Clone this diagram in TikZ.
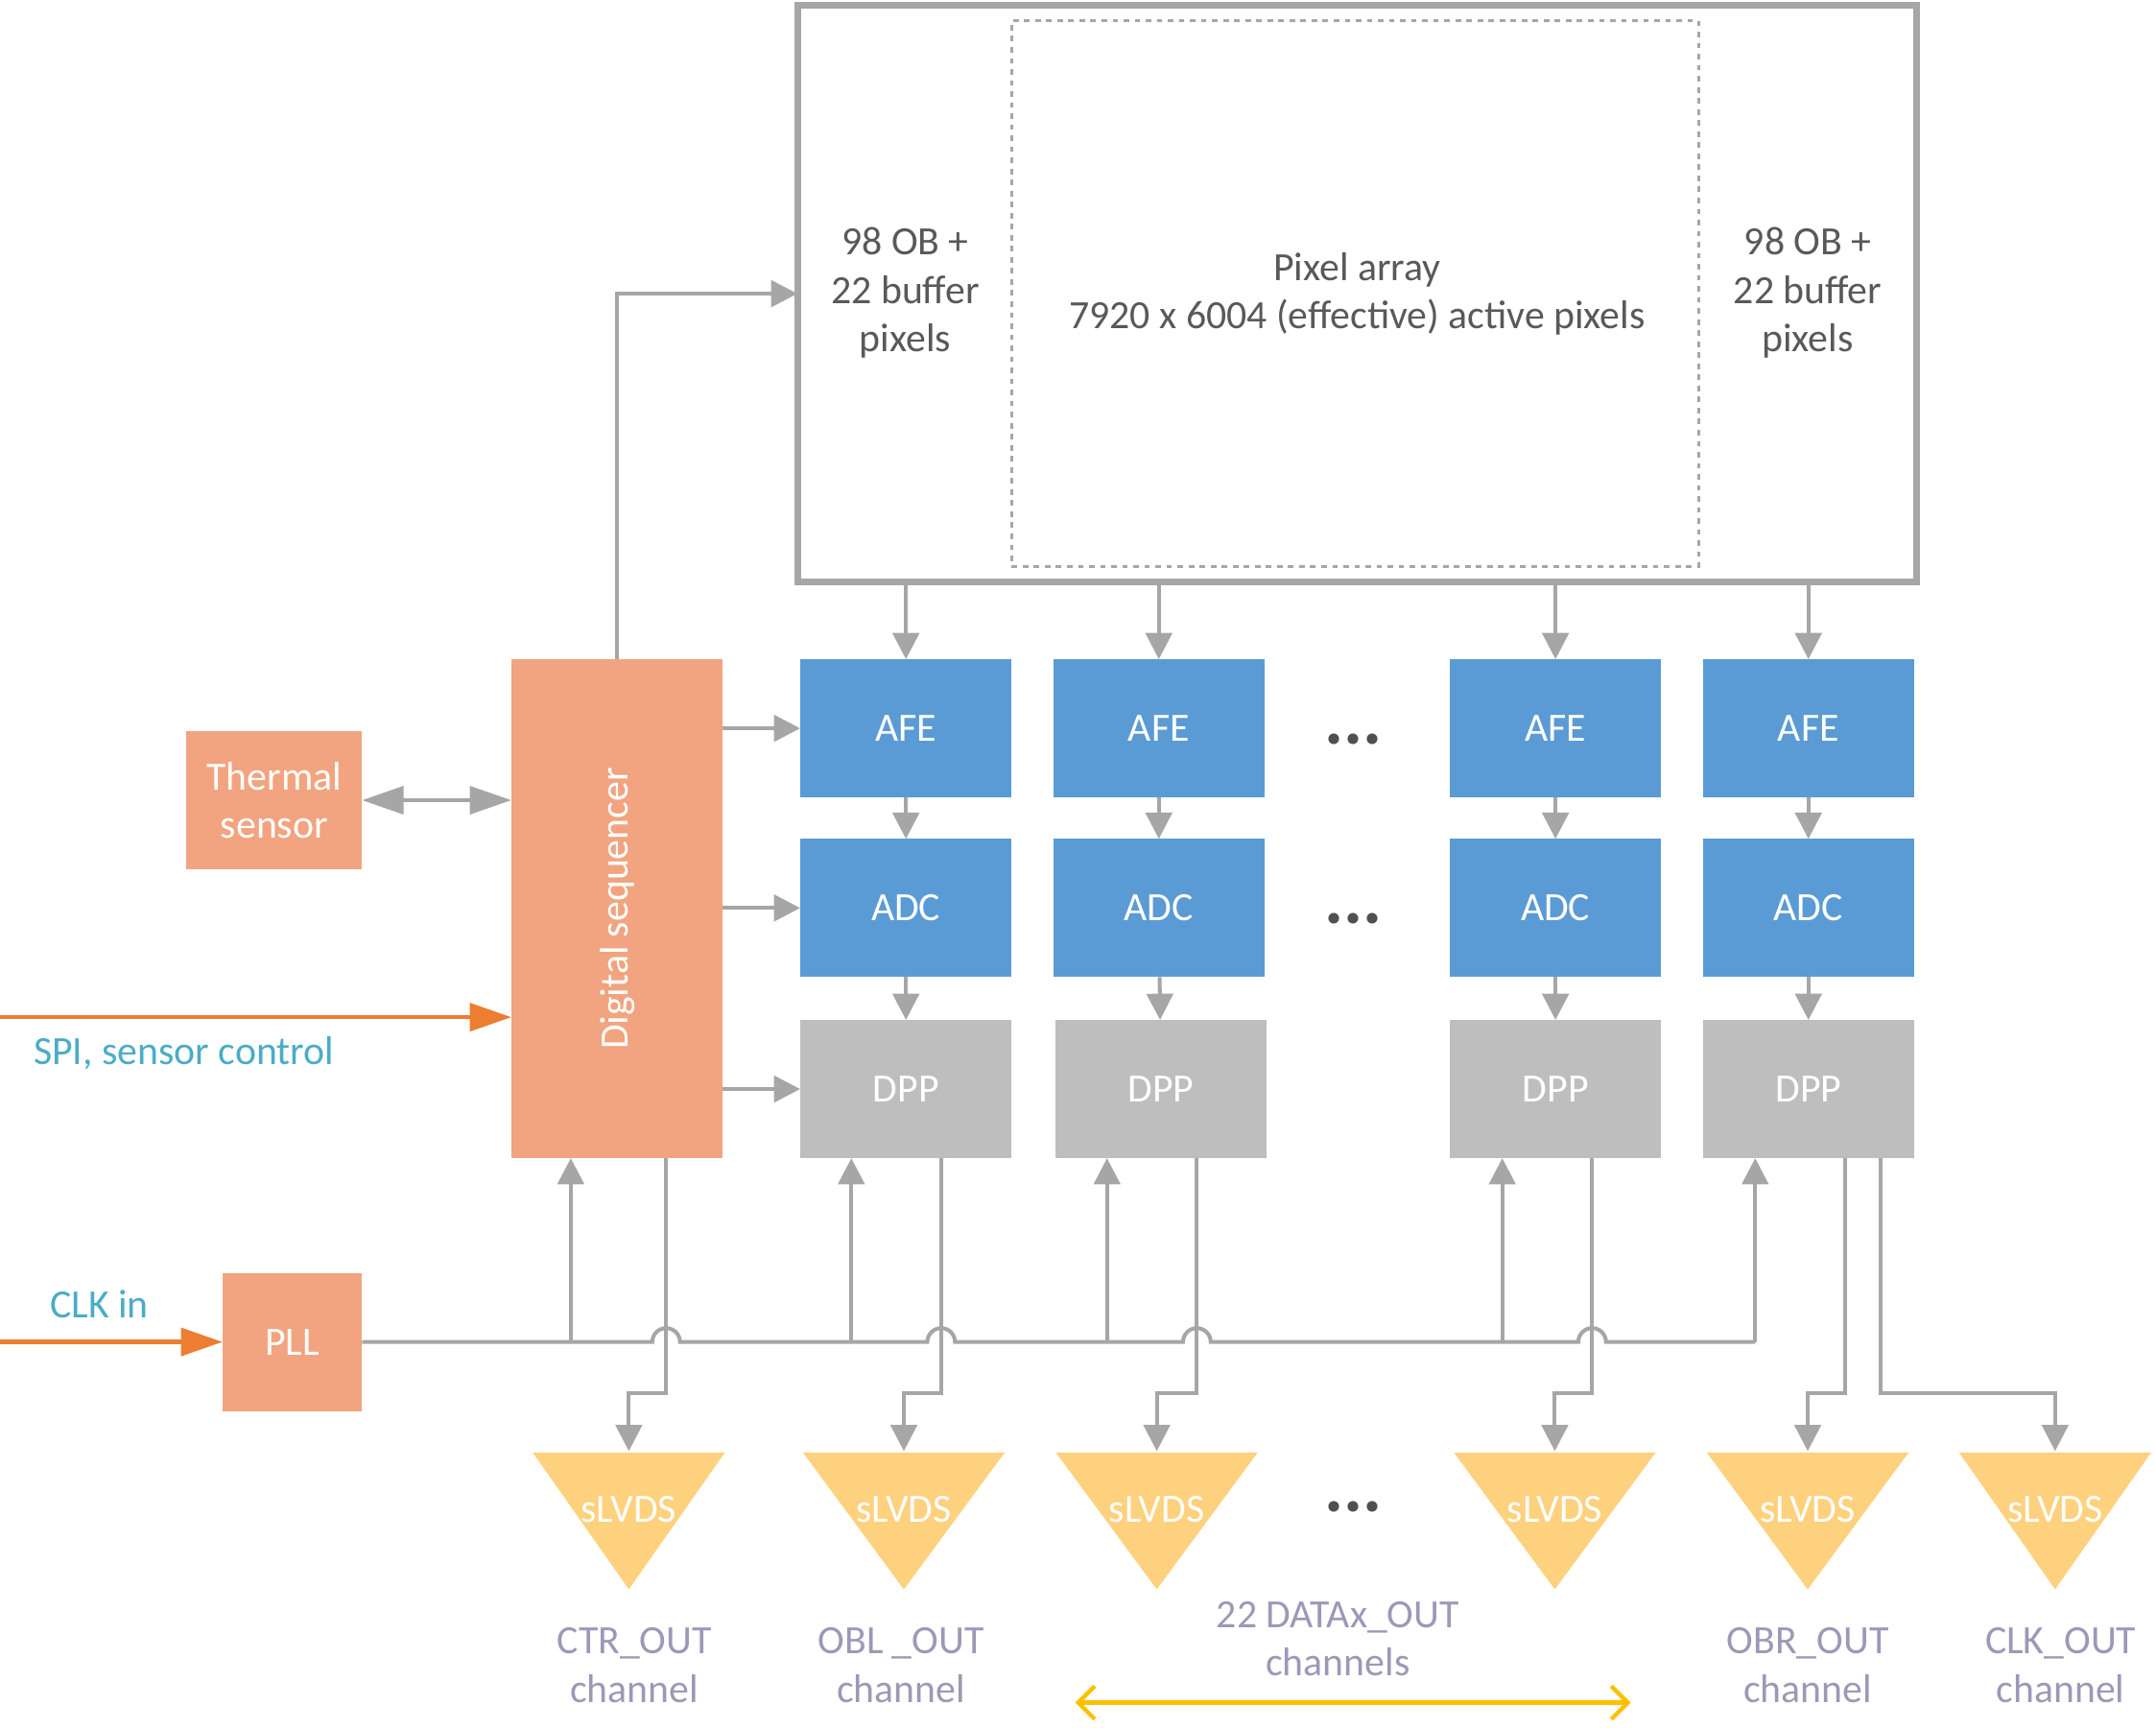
\documentclass[tikz,border=0pt]{standalone}
\usepackage{fontspec}
\setmainfont{Carlito}
\usetikzlibrary{arrows.meta}
\definecolor{seqc}{HTML}{F1A47F}
\definecolor{bluec}{HTML}{5B9BD5}
\definecolor{dppc}{HTML}{BEBEBE}
\definecolor{slvc}{HTML}{FED17E}
\definecolor{linec}{HTML}{A6A6A6}
\definecolor{orc}{HTML}{ED7D31}
\definecolor{tealc}{HTML}{4BACC6}
\definecolor{txtc}{HTML}{595959}
\definecolor{labc}{HTML}{9D98B7}
\definecolor{yelc}{HTML}{FFC000}
\definecolor{dotc}{HTML}{505050}
\begin{document}
\begin{tikzpicture}[x=0.5pt,y=-0.5pt,
  every node/.style={font=\fontsize{14.5pt}{17.5pt}\selectfont, inner sep=0pt, outer sep=0pt},
  blk/.style={rectangle, minimum width=76.5pt, minimum height=50pt, text=white},
  afebox/.style={blk, fill=bluec},
  dppbox/.style={blk, fill=dppc},
  orbox/.style={rectangle, fill=seqc, text=white},
  conn/.style={draw=linec, line width=1.4pt},
  arr/.style={conn, -{Triangle[length=9.5pt,width=9.5pt]}},
  orarr/.style={draw=orc, line width=1.5pt, -{Triangle[length=15pt,width=10pt]}},
  slvtri/.style={fill=slvc},
  slvtxt/.style={text=white},
  labtxt/.style={text=labc, align=center},
  boxtxt/.style={text=txtc, align=center},
  dotstxt/.style={text=dotc, font=\fontsize{26pt}{30pt}\selectfont\bfseries},
]
\useasboundingbox (0,0) rectangle (1560,1250);

% pixel array
\node[draw=linec, line width=2.5pt, minimum width=405pt, minimum height=208.5pt] (pix) at (982,212.5) {};
\node[draw=linec, dash pattern=on 2pt off 2pt, line width=1pt, minimum width=248.5pt, minimum height=197.5pt] (act) at (980.5,212.5) {};
\node[boxtxt] (lob) at (655,212) {98 OB +\\22 buffer\\pixels};
\node[boxtxt] (pa) at (982,212.5) {Pixel array\\7920 x 6004 (effective) active pixels};
\node[boxtxt] (rob) at (1308,212) {98 OB +\\22 buffer\\pixels};

% columns
\node[afebox] (afe1) at (655.5,527) {AFE};
\node[afebox] (afe2) at (838.5,527) {AFE};
\node[afebox] (afe3) at (1125.5,527) {AFE};
\node[afebox] (afe4) at (1308.5,527) {AFE};
\node[afebox] (adc1) at (655.5,657) {ADC};
\node[afebox] (adc2) at (838.5,657) {ADC};
\node[afebox] (adc3) at (1125.5,657) {ADC};
\node[afebox] (adc4) at (1308.5,657) {ADC};
\node[dppbox] (dpp1) at (655.5,788) {DPP};
\node[dppbox] (dpp2) at (840,788) {DPP};
\node[dppbox] (dpp3) at (1125.5,788) {DPP};
\node[dppbox] (dpp4) at (1308.5,788) {DPP};

\node[dotstxt] (d1) at (979,535) {...};
\node[dotstxt] (d2) at (979,665) {...};
\node[dotstxt] (d3) at (979,1090) {...};

% orange blocks
\node[orbox, minimum width=76.5pt, minimum height=180.5pt] (seq) at (446.5,657.5) {};
\node[rotate=90, text=white] (seqt) at (seq.center) {Digital sequencer};
\node[orbox, minimum width=63.5pt, minimum height=50pt, align=center] (therm) at (198.5,579) {Thermal\\sensor};
\node[orbox, minimum width=50.5pt, minimum height=50pt] (pll) at (211.5,971) {PLL};

% connectors from pixel array
\draw[arr] (seq.north) |- (pix.west);
\foreach \c in {1,2,3,4}{
  \draw[arr] (afe\c.north |- pix.south) -- (afe\c.north);
  \draw[arr] (afe\c) -- (adc\c);
  \draw[arr] (adc\c) -- (dpp\c);
}
\draw[arr] (seq.east |- afe1) -- (afe1.west);
\draw[arr] (seq.east |- adc1) -- (adc1.west);
\draw[arr] (seq.east |- dpp1) -- (dpp1.west);

\draw[conn, {Triangle[length=15pt,width=10pt]}-{Triangle[length=15pt,width=10pt]}] (therm.east) -- (therm.east -| seq.west);

% inputs
\coordinate (spiin) at (0,736);
\draw[orarr] (spiin) -- (spiin -| seq.west);
\node[text=tealc] (spil) at (133,762) {SPI, sensor control};
\coordinate (clkin) at (0,971);
\draw[orarr] (clkin) -- (pll.west);
\node[text=tealc] (clkl) at (72,944) {CLK in};

% clock bus with hops
\draw[conn] (pll.east) -- (472,971) arc[start angle=180,end angle=0,radius=5pt]
  -- (671,971) arc[start angle=180,end angle=0,radius=5pt]
  -- (856,971) arc[start angle=180,end angle=0,radius=5pt]
  -- (1142,971) arc[start angle=180,end angle=0,radius=5pt]
  -- (1270,971) coordinate (busend);
\draw[arr] (413,971) -- (413,0 |- seq.south);
\draw[arr] (616,971) -- (616,0 |- dpp1.south);
\draw[arr] (801,971) -- (801,0 |- dpp2.south);
\draw[arr] (1087,971) -- (1087,0 |- dpp3.south);
\draw[arr] (busend) -- (busend |- dpp4.south);

% sLVDS drivers
\fill[slvtri] (385.5,1051) -- (524.5,1051) -- (455,1150) -- cycle;
\fill[slvtri] (581,1051) -- (727,1051) -- (654,1150) -- cycle;
\fill[slvtri] (764,1051) -- (910,1051) -- (837,1150) -- cycle;
\fill[slvtri] (1052,1051) -- (1198,1051) -- (1125,1150) -- cycle;
\fill[slvtri] (1235,1051) -- (1381,1051) -- (1308,1150) -- cycle;
\fill[slvtri] (1417.5,1051) -- (1556.5,1051) -- (1487,1150) -- cycle;
\coordinate (s1in) at (455,1050);
\coordinate (s2in) at (654,1050);
\coordinate (s3in) at (837,1050);
\coordinate (s4in) at (1125,1050);
\coordinate (s5in) at (1308,1050);
\coordinate (s6in) at (1487,1050);
\node[slvtxt] (s1) at (455,1092) {sLVDS};
\node[slvtxt] (s2) at (654,1092) {sLVDS};
\node[slvtxt] (s3) at (837,1092) {sLVDS};
\node[slvtxt] (s4) at (1125,1092) {sLVDS};
\node[slvtxt] (s5) at (1308,1092) {sLVDS};
\node[slvtxt] (s6) at (1487,1092) {sLVDS};

% outputs
\draw[arr] (482,0 |- seq.south) -- (482,1008) -| (s1in);
\draw[arr] (681,0 |- dpp1.south) -- (681,1008) -| (s2in);
\draw[arr] (866,0 |- dpp2.south) -- (866,1008) -| (s3in);
\draw[arr] (1152,0 |- dpp3.south) -- (1152,1008) -| (s4in);
\draw[arr] (1335,0 |- dpp4.south) -- (1335,1008) -| (s5in);
\draw[arr] (1361,0 |- dpp4.south) -- (1361,1008) -| (s6in);

% labels
\node[labtxt] (l1) at (459,1205) {CTR\_OUT\\channel};
\node[labtxt] (l2) at (652,1205) {OBL \_OUT\\channel};
\node[labtxt] (l3) at (968,1186) {22 DATAx\_OUT\\channels};
\node[labtxt] (l5) at (1308,1205) {OBR\_OUT\\channel};
\node[labtxt] (l6) at (1491,1205) {CLK\_OUT\\channel};
\coordinate (ya) at (778,1232);
\coordinate (yb) at (1180,1232);
\draw[yelc, line width=1.5pt, {Straight Barb[length=6pt,width=12pt]}-{Straight Barb[length=6pt,width=12pt]}] (ya) -- (yb);
\end{tikzpicture}
\end{document}
